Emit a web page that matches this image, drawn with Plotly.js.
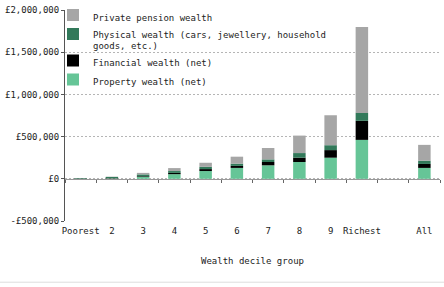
<!DOCTYPE html>
<html>
<head>
<meta charset="utf-8">
<script src="https://cdn.plot.ly/plotly-3.0.1.min.js"></script>
<style>html,body{margin:0;padding:0;background:#fff;}#chart{width:444px;height:287px;}</style>
</head>
<body>
<div id="chart"></div>
<script>
var categories = ['Poorest','2','3','4','5','6','7','8','9','Richest',' ','All'];
var property  = [2000, 5000, 22000, 55000, 92000, 129000, 160000, 199000, 250000, 461000, null, 129000];
var financial = [-6000, 4000, 8000, 15000, 23000, 24000, 39000, 51000, 90000, 226000, null, 47000];
var physical  = [6000, 13000, 22000, 22000, 27000, 27000, 31000, 55000, 58000, 94000, null, 39000];
var pension   = [1000, 3000, 18000, 35000, 48000, 82000, 135000, 207000, 355000, 1019000, null, 187000];

var seriesNames = ['Property wealth (net)', 'Financial wealth (net)', 'Physical wealth (cars, jewellery, household<br>goods, etc.)', 'Private pension wealth'];
var seriesColors = ['#66c597', '#000000', '#32795a', '#a6a6a6'];
var yTickVals = [-500000, 0, 500000, 1000000, 1500000, 2000000];
var yTickText = ['-£500,000', '£0', '£500,000', '£1,000,000', '£1,500,000', '£2,000,000'];

var font = 'DejaVu Sans Mono, monospace';
var series = [property, financial, physical, pension];
var traces = series.map(function(v, i){
  return {type:'bar', x:categories, y:v, name:seriesNames[i], legendrank:10-i,
          marker:{color:seriesColors[i], line:{width:0}}, hoverinfo:'skip'};
});

var layout = {
  width:444, height:287,
  margin:{l:65, r:4, t:9, b:66},
  paper_bgcolor:'#fff', plot_bgcolor:'#fff',
  barmode:'relative', bargap:0.6,
  font:{family:font, size:9, color:'#222'},
  showlegend:true,
  legend:{x:-0.032, y:1.03, xanchor:'left', yanchor:'top', bgcolor:'rgba(0,0,0,0)', valign:'top',
          traceorder:'normal', font:{family:font, size:9, color:'#222'}},
  xaxis:{type:'category', categoryorder:'array', categoryarray:categories,
         showline:false, showgrid:false, zeroline:false, ticks:'', ticklen:0, ticklabelstandoff:3,
         tickfont:{family:font, size:9, color:'#222'},
         title:{text:'Wealth decile group', font:{family:font, size:9, color:'#222'}, standoff:22}},
  xaxis2:{type:'category', overlaying:'x', matches:'x', anchor:'free', position:0.2, side:'bottom',
          showline:true, linecolor:'#999', linewidth:1, ticks:'outside', ticklen:3, tickcolor:'#666',
          tickson:'boundaries', showticklabels:false, showgrid:false, zeroline:false},
  yaxis:{range:[-500000, 2000000], tickvals:yTickVals, ticktext:yTickText,
         showline:true, linecolor:'#555', linewidth:1, ticks:'outside', ticklen:3, tickcolor:'#555',
         showgrid:true, gridcolor:'#b5b5b5', griddash:'2px,2px', gridwidth:1, zeroline:false,
         tickfont:{family:font, size:9, color:'#222'}},
  shapes:[{type:'line', xref:'paper', yref:'paper', x0:-0.2, x1:1.02, y0:-0.29, y1:-0.29,
           line:{color:'#ddd', width:1}}]
};

var dummy = {type:'bar', x:categories, y:categories.map(function(){return 0;}), xaxis:'x2', showlegend:false, hoverinfo:'skip', marker:{color:'rgba(0,0,0,0)'}};
Plotly.newPlot('chart', traces.concat([dummy]), layout, {displayModeBar:false, staticPlot:true});
</script>
</body>
</html>
